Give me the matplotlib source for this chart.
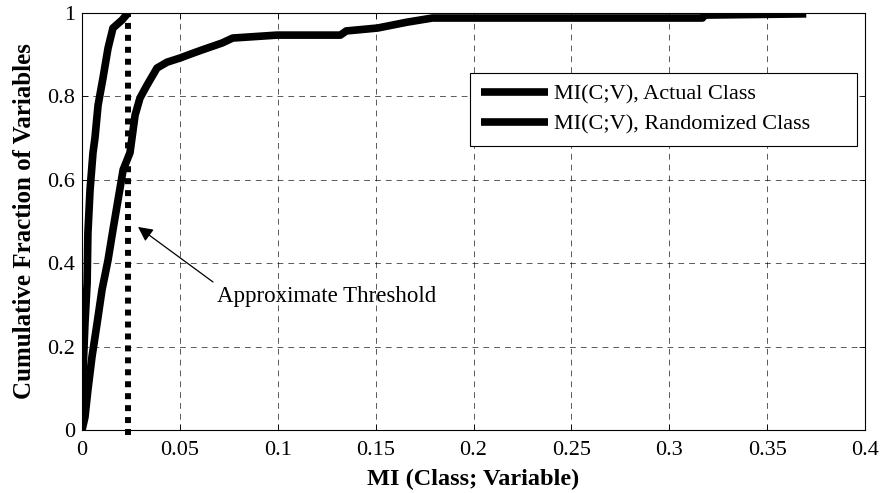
import matplotlib.pyplot as plt

# MI(C;V) with the real class labels
mi_actual = [0, 0.0015, 0.003, 0.0051, 0.0077, 0.0102, 0.0133, 0.0158, 0.0184, 0.021,
             0.0245, 0.0271, 0.0296, 0.0332, 0.0383, 0.0434, 0.050, 0.054, 0.061, 0.0715,
             0.077, 0.0996, 0.132, 0.135, 0.151, 0.166, 0.179, 0.317, 0.318, 0.370]
frac_actual = [0, 0.031, 0.096, 0.176, 0.256, 0.336, 0.408, 0.480, 0.552, 0.624,
               0.665, 0.755, 0.796, 0.827, 0.868, 0.882, 0.892, 0.899, 0.911, 0.928,
               0.940, 0.947, 0.947, 0.957, 0.964, 0.978, 0.988, 0.988, 0.995, 0.998]

# MI(C;V) with shuffled class labels
mi_random = [0, 0, 0.0005, 0.0015, 0.0026, 0.003, 0.0041, 0.0056, 0.0066, 0.0082,
             0.0107, 0.0133, 0.0158, 0.0204, 0.0235]
frac_random = [0, 0.017, 0.137, 0.256, 0.352, 0.472, 0.576, 0.665, 0.700, 0.779,
               0.844, 0.916, 0.964, 0.983, 1.0]

threshold = 0.0235

xticks = [0, 0.05, 0.1, 0.15, 0.2, 0.25, 0.3, 0.35, 0.4]
xticklabels = ['0', '0.05', '0.1', '0.15', '0.2', '0.25', '0.3', '0.35', '0.4']
yticks = [0, 0.2, 0.4, 0.6, 0.8, 1]
yticklabels = ['0', '0.2', '0.4', '0.6', '0.8', '1']

plt.rcParams['font.family'] = ['Liberation Serif', 'DejaVu Serif']
plt.rcParams['font.size'] = 16

fig = plt.figure(figsize=(8.83, 4.93), dpi=100)
ax = fig.add_axes([0.0929, 0.1278, 0.8867, 0.8458])

ax.plot(mi_actual, frac_actual, color='black', lw=5.5, label='MI(C;V), Actual Class',
        solid_joinstyle='round', solid_capstyle='butt')
ax.plot(mi_random, frac_random, color='black', lw=5.5, label='MI(C;V), Randomized Class',
        solid_joinstyle='round', solid_capstyle='butt')
ax.plot([threshold, threshold], [-0.012, 1.0], color='black', lw=4.3,
        dashes=(1, 1), dash_capstyle='butt', clip_on=False)

ax.set_xlim(0, 0.4)
ax.set_ylim(0, 1)
ax.set_xticks(xticks)
ax.set_xticklabels(xticklabels)
ax.set_yticks(yticks)
ax.set_yticklabels(yticklabels)
ax.tick_params(direction='in', length=4, width=0.6, top=True, right=True, labelsize=16)
ax.tick_params(axis='x', pad=8)
ax.tick_params(axis='y', pad=5)
ax.grid(True, color='black', lw=0.6, linestyle=(0, (7, 6)), alpha=0.75)
for s in ax.spines.values():
    s.set_linewidth(0.8)

ax.set_xlabel('MI (Class; Variable)', fontweight='bold', fontsize=17.5, labelpad=6)
ax.set_ylabel('Cumulative Fraction of Variables', fontweight='bold', fontsize=18, labelpad=8)

leg = ax.legend(loc='upper left', bbox_to_anchor=(0.4955, 0.683, 0.494, 0.173),
                mode='expand', borderaxespad=0,
                fancybox=False, edgecolor='black', framealpha=1, handlelength=3.0,
                handletextpad=0.3, labelspacing=0.42, borderpad=0.5, fontsize=16)
leg.get_frame().set_linewidth(0.8)

ax.text(0.0690, 0.32, 'Approximate Threshold', ha='left', va='center', fontsize=16.5)
ax.annotate('', xy=(0.0286, 0.487), xytext=(0.0669, 0.355),
            arrowprops=dict(arrowstyle='-|>', color='black', lw=0.9,
                            mutation_scale=22, shrinkA=0, shrinkB=0))

fig.savefig('out.png', dpi=100)
